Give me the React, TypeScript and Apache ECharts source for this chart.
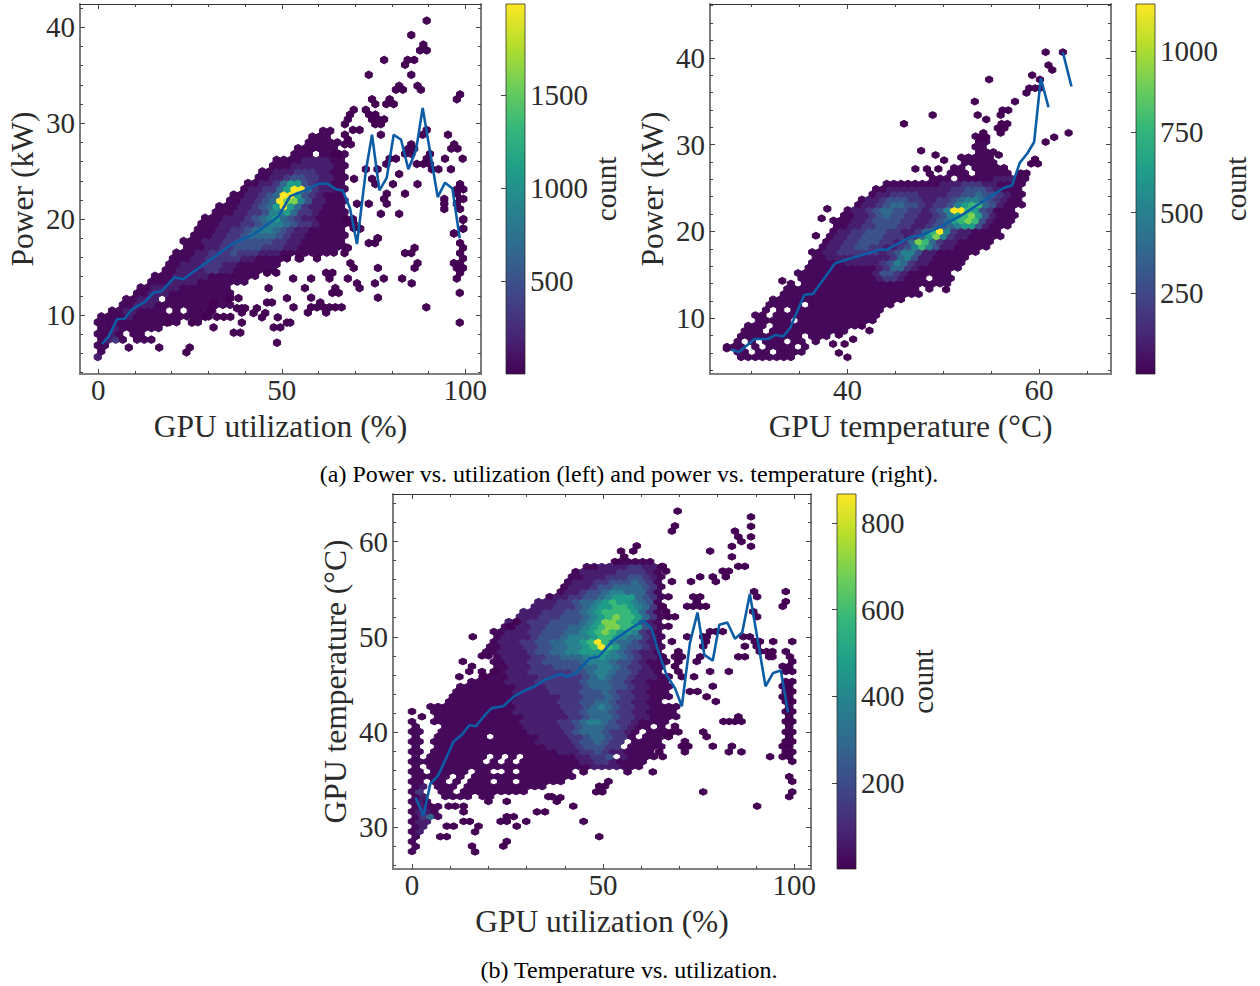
import React, { useEffect, useRef } from "react";
import * as echarts from "echarts";

const viridis = ["#440154","#482878","#3e4989","#31688e","#26828e","#1f9e89","#35b779","#6ece58","#b5de2b","#fde725"];
const levelFractions = [0.02,0.08,0.16,0.25,0.34,0.44,0.55,0.67,0.8,1];
const FONT = "Liberation Serif";
const INK = "#2b2b2b";

// [half-row, first column, count level per column (blank = empty bin)]
const powerUtilRows: [number,number,string][] = [
[0,0,"1"],[1,0,"0"],[2,0,"00"],[3,0,"0120"],[3,5,"00"],[3,7,"0"],[4,0,"0010"],[4,5,"00"],[5,0,"00100"],[5,5,"0000"],
[6,0,"000000000000  0"],[7,0,"0000100000000000"],[8,2,"00110000 0 0000"],[9,3,"0011100000000000"],[10,4,"00111 000000000"],
[11,5,"00111000000000"],[12,6,"0011110000000"],[13,7,"00011110000000"],[14,8,"000111110000000"],[15,9,"0011112211000000"],
[16,10,"0011122211000000"],[17,10,"0001122222110000"],[18,11,"00011222322211100000000"],[19,12,"00011223333222110000000"],
[20,12,"00011122333332211000000"],[21,13,"0001122344443211000000"],[22,14,"000112234554321100000"],[23,14,"000111223455432210000"],
[24,15,"00011123456432110000"],[25,16,"0001122355642210000"],[26,17,"000112346964211000"],[27,18,"00112349885311000"],
[28,19,"0011234996321000"],[29,20,"011224699421100"],[30,21,"00112466321100"],[31,22,"0011233221100"],[32,23,"001112221100"],
[33,24,"00011111100"],[34,25,"0000111100"],[35,27,"000 0000"],[36,28,"000000"],[37,29,"00000"],[38,30,"000"],[39,31,"00"],
];
const powerUtilOutliers: [number,number][] = [
[89.5,40.7],[85.3,39.2],[88.6,38.2],[87.7,37.6],[89.5,37.6],[77.9,36.6],[86.1,36.6],[84.3,36.6],[83.6,36.1],[73.7,35.05],[85.3,35.05],[82,33.9],[87,33.9],[81.1,33.5],[83,33.5],[87.9,33.5],[98.6,33],[97.7,32.5],[74.6,32.5],[79.4,32.5],[78.5,32],[80.5,32],[75.5,32],[69.6,31.4],[72.9,31.4],[68.6,30.9],[73.8,30.9],[75.5,30.9],[68,30.4],[74.6,30.4],[76.3,30.4],[77.9,30.4],[67.2,29.9],[75.5,29.9],[77,29.9],[69.4,29.3],[71.2,29.3],[89.5,29.3],[88.4,28.8],[95.3,28.8],[77,28.8],[67.2,28.8],[68,28.3],[67.2,27.8],[68.8,27.8],[97,27.8],[96.2,27.35],[97.9,27.35],[85.3,27.8],[84.5,27.35],[86.1,27.35],[83.6,26.8],[85.3,26.8],[90.4,26.8],[65.5,26.8],[64.6,26.8],[79.4,26.3],[81.1,26.3],[94.5,26.3],[89.5,26.3],[99.3,26.3],[78.5,25.75],[86.8,25.75],[88.6,25.75],[90.4,25.75],[72.9,25.2],[76.1,25.2],[90.9,25.2],[92.7,25.2],[96.1,25.2],[82,24.7],[69.7,24.2],[74.6,24.2],[75.5,23.65],[80.3,23.65],[87,23.65],[98.6,23.65],[97.7,23.1],[99.5,23.1],[78.6,22.65],[83.6,22.65],[97.7,22.65],[77.9,22.1],[94.3,22.1],[98.6,22.1],[99.5,22.1],[70.5,21.6],[73.7,21.6],[78.6,21.6],[94.3,21.6],[97.7,21.6],[94.3,21.05],[98.6,21.05],[77,20.55],[82,20.55],[99.5,20],[67.7,20],[69.4,20],[69.6,19.5],[71.4,19],[97,18.5],[99.5,19],[76.1,18],
[68,17],[67.1,16.45],[55,15.9],[59.6,15.9],[68.7,15.4],[69.6,14.9],[76.2,18],[75.4,17.5],[73.7,17.5],[76.2,14.9],[62.1,14.4],[63.8,14.4],[63,13.8],[58,13.8],[68,13.8],[77.8,13.8],[82.8,13.8],[70.5,13.3],[75.4,13.3],[85.4,13.3],[56.3,12.8],[71.2,12.8],[64.6,12.8],[63.8,12.3],[65.5,12.3],[58,11.8],[76.2,11.8],[60.5,11.3],[58,10.8],[59.6,10.8],[61.4,10.8],[63,10.8],[64.6,10.8],[66.3,10.8],[57.1,10.25],[62.1,10.25],[89.4,10.8],[98.5,9.2],[98.5,12.3],[97.7,13.8],[86.2,17],[85.3,16.45],[83.6,16.45],[87,15.4],[86.2,14.9],[96.9,18.5],[99.4,19],[99.4,19.9],[98.6,17.5],[99.4,17],[98.6,16.45],[99.4,15.9],[96.9,15.4],[98.6,15.4],[97.7,14.9],[99.4,14.9],[98.6,14.4],[69.6,19.06],[68.7,19.6],
[8.3,6.6],[16.6,6.6],[24.9,6.6],[24,6.1],[48.7,7.1],[31.4,8.7],[36.9,8.15],[38.7,8.15],[39.1,9.2],[47.8,8.7],[49.6,8.7],[51.4,9.2],[52.3,9.2],[48.9,9.75],[53.2,10.8],[51.4,11.75],[46,11.3],[47.3,11.3],[46.4,12.8],[53.1,13.8],[45.5,10.2],[44.6,9.75],[43.2,10.7],[42.3,10.2],[39.1,10.7],[37.8,10.7],[40,10.7],[39.1,10.25],[51.4,15.9],[54.6,15.9],[46,14.4],[48.5,14.4],[31.4,11.2],[36,11.75],[38.2,11.75],[36,9.8],[34.2,9.8],[32.3,9.8],[30.5,10.35],[29.2,9.8],[25.5,9.2],[18.7,9.2],
];
const powerUtilLine: [number,number][] = [
[1,6.97],[2.8,7.74],[5.1,9.55],[7.1,9.6],[9.2,10.6],[12.8,11.4],[15.1,12.34],[17.1,12.44],[20.8,13.94],[23.1,13.73],[29.6,15.5],[36.9,17.5],[42.3,18.4],[47.8,19.9],[49.1,20.3],[52.3,22.4],[56.4,23],[60,23.7],[62.5,23.7],[64.8,23.1],[66.6,23],[68.6,21.1],[70.5,17.4],[72.9,25],[74.6,28.8],[76.6,23],[78.6,24.3],[80.5,28.8],[82.5,28.3],[84.5,25.2],[86.6,27.2],[88.4,31.6],[92.5,22.3],[94.5,23.8],[96.5,23.2],[98.5,18],
];

const powerTempRows: [number,number,string][] = [
[0,2,"00000000"],[1,1,"00 00 0000"],[2,0,"000 0 0000 0"],[3,1,"0 0 000 00 0"],[4,2,"000000000 000"],[5,2,"000 00000000000"],
[6,3,"000 000000000000"],[7,4,"00000 00000000000"],[8,4,"00 000000000000000"],[9,5,"0 0 0000000000000"],[10,6,"00000 000000000000"],
[11,6,"0000000000000000000"],[12,8,"00000000000000000000"],[13,8,"0000000000000000000 0"],[14,9,"0 000000000000000000000"],
[15,10,"00000000000"+"1221"+"000"+" "+"000"],[16,10,"00000000000"+"13321"+"000000"],[17,11,"0000000000"+"124421"+"000000"],
[18,12,"000001111"+"12354211"+"00000"],[19,12,"0011"+"11111"+"11245311"+"00000"],[20,12,"0011"+"22222"+"212355311"+"000000"],
[21,13,"01"+"1223322"+"1123575311"+"00000"],[22,14,"01"+"1223332"+"2124874211"+"00000"],[23,14,"01"+"1223332"+"22"+"124685211"+"00000"],
[24,15,"01"+"12233322"+"1124795211"+"0000"],[25,15,"00"+"112233322"+"11233456631"+"000"],[26,15,"000"+"112333322"+"11234678731"+"000"],
[27,16,"00"+"112343322"+"11235678631"+"000"],[28,17,"01"+"123443322"+"1235997632"+"000"],[29,18,"01"+"12344332"+"12235677431"+"000"],
[30,19,"01"+"1233322"+"11223455432"+"100"],[31,20,"01"+"122221"+"11122334332"+"100"],[32,21,"00"+"11111"+"11112233321"+"000"],
[33,22,"00000"+"000111222110"+"000"],[34,29,"000 0000011100"],[35,31,"000 00000"],[36,32,"00 00000"],[37,33,"00000"],[38,33,"00000"],[39,35,"000"],[40,35,"00"],[41,35,"00"],[42,35,"0"],
];
const powerTempOutliers: [number,number][] = [
[60.7,40.65],[62.5,40.65],[61,39.15],[61.4,38.6],[59.3,38],[60.1,37.5],[54.8,37.5],[59,36.5],[59.6,36.5],[60.1,36.5],[58.7,35.96],[53.3,34.96],[57.5,34.96],[56.2,33.96],[56.8,33.96],[56,33.4],[48.9,33.4],[53.6,33.4],[54.5,32.9],[45.9,32.4],[56.7,32.4],[56.1,32.4],[55.7,31.9],[56.4,31.9],[56,31.35],[63.1,31.35],[61.6,30.85],[60.7,30.3],[54.2,31.35],[53.8,30.85],[54.5,30.85],[47.7,29.3],[49.2,28.8],[50.1,28.2],[47.1,27.2],[48.3,27.2],[48.6,26.65],[49.5,27.2],[59.6,28.3],[59.2,27.8],[59.9,27.8],[58.1,26.7],[58.7,26.7],[55.8,28.8],
[37.9,22.6],[37.3,21.5],[36.7,19.5],[27.4,6.5],[50.3,13.3],[33.2,14.3],[41.5,9.1],[42.3,8.57],[39.1,8.07],[40.6,7.57],[38.5,7.03],[39.7,7.03],[39.1,6],[40,5.5],
];
const powerTempLine: ([number,number]|[null,null])[] = [
[27.8,6.4],[28.67,6.1],[30.3,7.6],[31.7,7.6],[32.5,8.07],[33.3,7.9],[34,8.84],[35.5,12.7],[36.4,12.8],[38.7,16.34],[41.6,17.3],[43.4,17.9],[44.1,17.9],[46.5,19.3],[47.8,19.6],[49.65,20.5],[52.1,22],[54.2,23.5],[56.3,25],[57.2,25.3],[58,27.9],[58.8,29],[59.5,30.3],[60.2,37.65],[61,34.3],[null,null],[62.5,40.65],[63.4,36.7],
];

const tempUtilRows: [number,number,string][] = [
[0,0,"0"],[1,0,"0"],[2,0,"0"],[3,0,"0"],[4,0,"01"],[5,0,"01"],[6,0,"011"],[7,0,"0240"],[8,0,"0110"],[9,0,"0100"],[10,0,"010"],
[11,0,"01"],[12,0,"02"],[13,0,"01"],[14,0,"00"],[15,0,"00"],[16,0,"00"],[17,0,"0"],[18,0,"00"],[19,0,"0"],[20,0,"00"],[21,0,"0"],[22,0,"00"],[23,0,"0"],[24,0,"00"],[25,0,"0"],[26,0,"0"],
[11,4,"0000"],[11,9,"00"],[12,4,"00 000"],[12,9,"0000000"],[13,3,"000 00"],[13,9,"000000000"],[14,3,"00 0"],[14,8,"000 00 000000"],[15,2,"000"],[15,6,"0"],[15,8,"00000000000000"],
[16,3,"000"],[16,6,"00"],[16,9,"00  0 0000000"],[17,2,"000"],[17,5,"0000"],[17,9,"0000000000000"+"001111000"],
[18,2,"00000000"+" 0 "+"0"+" "+"00000000"+"11221"+"0000"],[19,2,"00000000"+" 0 0"+" "+"00000001"+"1223"+" "+"10000"],
[20,3,"000000000000"+"0000011"+"122321"+"10000"],[21,3,"000000000000"+"0001111"+"233322"+" 00000"],[22,3,"000000000000"+"0011111"+"233432"+"2 0000"],
[23,3,"0000000 0000"+"0011112"+"234432"+"20 0000"],[24,4,"00000000000"+"0111112"+"344432"+"210 000"],[25,4,"00000000000"+"1111122"+"344433"+"2100 0"],
[26,3,"000000000000"+"1111122"+"345543"+"2210000"],[27,3,"000000000000"+"1111112"+"234443"+"22110000"],[28,3,"0000000000"+"011111112"+"234443"+"22110000"],
[29,2,"00000000000"+"011111122"+"234543"+"22110000"],[30,5,"00000000"+"011111122"+"233443"+"221100"],[31,5,"00000000"+"011111122"+"233343"+"2211000"],
[32,6,"0000000"+"011111222"+"233343"+"2211000"],[33,6,"0000000"+"011112222"+"234443"+"3211000"],[34,8,"00000"+"111122222"+"234443"+"3211000"],
[35,9,"0000"+"111122222"+"234543"+"3211100"],[36,11,"00"+"111222222"+"334554"+"332110"],[37,11,"00"+"111222333"+"344554"+"322100"],
[38,11,"00"+"111223333"+"345554"+"332100"],[39,11,"01"+"111223344"+"455655"+"432110"],[40,10,"001"+"111233445"+"566665"+"432110"],
[41,10,"001"+"112233445"+"567976"+"433210"],[42,11,"01"+"112233445"+"567975"+"443210"],[43,11,"01"+"111233345"+"556776"+"544210"],
[44,11,"00"+"111223334"+"456787"+"665210"],[45,12,"0"+"011223334"+"456788"+"776310"],[46,13,"111222333"+"345688"+"776310"],
[47,14,"11122233"+"345678"+"776420"],[48,15,"1112223"+"345677"+"776420"],[49,16,"111222"+"345667"+"765420"],[50,17,"11122"+"344567"+"665430"],
[51,18,"0112"+"233456"+"664320"],[52,20,"01"+"123345"+"544420"],[53,20,"01"+"112334"+"444320"],[54,21,"0"+"111223"+"334320"],[55,21,"0"+"011122"+"233210"],
[56,22,"011111"+"222210"],[57,23,"00111"+"122110"],[58,28,"00000"],
];
const tempUtilOutliers: [number,number][] = [
[69.5,63.2],[68.8,61.65],[68,61.1],[54.7,59],[55.5,58.4],[58.8,59.55],[57.9,59],[53.1,57.9],[78,59],[88.7,62.6],[88.7,61.6],[88.7,60.5],[88.7,59.5],[84.5,61.1],[85.4,60.5],[86.2,60],[83.7,59.5],[83.7,58.4],[85.4,57.4],[87.1,57.4],[81.3,56.9],[82.9,56.9],[82.1,56.3],[78.7,56.3],[79.5,55.8],[75.4,56.3],[73,55.8],[68,55.8],[65.6,57.4],[66.5,56.9],[67.1,54.2],[73.6,54.2],[75.4,54.2],[74.5,53.7],[72,53.2],[73.6,53.2],[75.4,53.2],[76.9,53.2],[89.5,54.75],[90.3,54.2],[97.8,54.75],[97.8,53.7],[97,53.2],[89.3,52.65],[90.3,52.1],[68.8,52.1],[67.1,52.1],[65.6,53.2],[66.5,52.65],[67.1,51.1],[81.3,50.55],[79.5,50.55],[78,50.55],[77.1,50],[72,50],[76.2,50],[76.9,49.5],[68,49.5],[76.2,49],[86.7,50],[88.4,50],[89.7,49.5],[87.1,49],[94.5,49.5],[99.5,49.5],[85.4,47.9],[87.1,47.9],[91,49.5],[90.2,49],[91,48.45],[92.8,48.45],[94.3,48.45],[93.5,47.9],[94.3,47.9],[97.8,48.45],[98.9,47.9],[99.5,47.4],[69.7,48.45],[68.8,47.9],[70.6,47.9],[69.7,47.4],[68.8,46.9],[75.4,47.9],[74.5,47.4],[78,46.35],[82.9,46.35],[69.7,46.35],[70.6,45.8],[73.8,45.8],[66.5,47.4],[65.6,47.9],[78.7,44.8],[72.7,44.25],[74.7,44.25],[77.1,43.7],[79.5,43.2],[81.5,41.1],[83,41.1],[84.5,41.1],[85.4,41.6],[86.2,41.1],
[97,46.9],[98.7,46.9],[99.5,46.35],[97.8,46.35],[99.5,45.3],[97.8,45.3],[97,44.8],[98.7,44.8],[99.5,44.25],[97.8,44.25],[98.7,43.7],[97,43.7],[99.5,43.2],[97.8,43.2],[98.7,42.7],[97.8,42.15],[99.5,42.15],[98.7,41.6],[97.8,41.1],[99.5,41.1],[98.7,40.6],[97.8,40],[99.5,40],[98.7,39.5],[99.5,39],[97.8,39],[97,38.5],[98.7,38.5],[97.8,37.9],[99.5,37.9],[93.7,37.4],[97,37.4],[98.7,37.4],[99.5,36.9],[98.7,35.3],[99.5,34.8],[99.5,33.7],[98.7,33.2],[90.3,32.2],[76.2,33.7],[48.2,33.7],[49.8,33.7],[49,34.3],[50.5,34.3],[51.4,34.8],[44.9,35.8],[56.4,35.8],[63,35.8],[44.9,30.6],[49,29],[76.2,40],[77.1,39.5],[78.7,38.5],[83.7,38.5],[82.9,37.9],[86.2,37.9],[71.4,39],[70.6,38.5],[72.3,38.5],[71.4,37.9],[68.8,40.6],[69.7,40],[68,40],[67.1,39.5],[64.7,37.9],[65.6,37.4],
[36.6,33.2],[35.7,33.2],[38.8,33.1],[37.9,32.7],[42.2,32.2],[29.9,30.6],[27.4,30.1],[24.8,31.1],[26.6,31.1],[23.2,30.6],[24.8,30.6],[32.7,31.6],[34.8,31.6],[20,32.7],[24.8,32.7],[17.4,30.1],[16.5,29.5],[13.5,30.6],[15.1,30.6],[9.1,30.1],[10.9,30.1],[7.4,29],[9.1,29],[15.7,28],[16.5,27.4],[24.8,28.5],[23.9,28],[9.6,32.2],[11.3,32.2],[13.5,31.6],[13.5,32.2],
[15.9,50],[13.3,47.4],[15.7,46.9],[15,46.35],[18.3,48],[20,48],[12.4,45.8],[19.2,45.8],[18.3,46.35],[21.5,46.35],[0,42.15],[2.6,41.6],[25.7,51.1],[27.4,51.6],
];
const tempUtilLine: [number,number][] = [
[0.95,33.1],[3,31.2],[4.8,34.55],[6.95,35.5],[10.9,39],[13.05,39.7],[15,40.7],[16.7,40.6],[19.6,42],[20.9,42.5],[23.9,42.7],[26.6,43.7],[29.2,44.3],[32.2,44.8],[34.4,45.4],[38.8,46.1],[40.5,45.8],[42.7,46.1],[46.6,47.75],[48.8,47.9],[52.3,49.5],[56.6,50.7],[60.6,51.7],[62.6,50.9],[64.5,48.45],[66.6,46],[68.8,44.6],[70.6,42.7],[72.7,49.3],[74.7,52.55],[76.5,48.1],[78.7,47.5],[80.4,51.25],[82.5,51.5],[84.5,49.8],[86.4,50.45],[88.4,54.5],[92.5,44.8],[94.5,46.2],[96.5,46.45],[98.4,42.05],
];

const utilMajor = [0,50,100];
const utilMinor = [0,10,20,30,40,60,70,80,90,100];
const powerMajor = [10,20,30,40];
const powerMinor1 = [4,6,8,12,14,16,18,22,24,26,28,32,34,36,38,42];
const powerMinor2 = [4,6,8,12,14,16,18,22,24,26,28,32,34,36,38,42,44,46];
const tempXMajor = [40,60];
const tempXMinor = [30,35,45,50,55,65];
const tempYMajor = [30,40,50,60];
const tempYMinor = [26,28,32,34,36,38,42,44,46,48,52,54,56,58,62,64];
const cb1Major = [500,1000,1500];
const cb1Minor = [100,200,300,400,600,700,800,900,1100,1200,1300,1400,1600,1700,1800,1900];
const cb2Major = [250,500,750,1000];
const cb2Minor = [50,100,150,200,300,350,400,450,550,600,650,700,800,850,900,950,1050,1100];
const cb3Major = [200,400,600,800];
const cb3Minor = [50,100,150,250,300,350,450,500,550,650,700,750,850];

function hexData(rows:[number,number,string][],outliers:[number,number][],x0:number,dx:number,y0:number,dy:number,max:number){
  const out:number[][]=[];
  rows.forEach(([r,c,s])=>{
    for(let i=0;i<s.length;i++){
      if(s[i]===" ")continue;
      const col=c+i+(r%2?0.5:0);
      out.push([x0+col*dx,y0+r*dy,levelFractions[+s[i]]*max]);
    }
  });
  outliers.forEach(([x,y])=>out.push([x,y,1]));
  return out;
}

function hexRender(dx:number,dy:number){
  return (_:any,api:any)=>{
    const p=api.coord([api.value(0),api.value(1)]);
    const s=api.size([dx,dy]);
    const w=s[0]/2,h=s[1];
    const color=api.visual("color");
    return {type:"polygon",shape:{points:[[p[0],p[1]-h*2/3],[p[0]+w,p[1]-h/3],[p[0]+w,p[1]+h/3],[p[0],p[1]+h*2/3],[p[0]-w,p[1]+h/3],[p[0]-w,p[1]-h/3]]},
      style:{fill:color,stroke:color,lineWidth:1}};
  };
}

function App(){
  const ref=useRef<HTMLDivElement>(null);
  useEffect(()=>{
    const chart=echarts.init(ref.current!,undefined,{renderer:"svg"});
    const grid:any[]=[],xAxis:any[]=[],yAxis:any[]=[],series:any[]=[],visualMap:any[]=[];
    const plain=(v:number)=>String(v);
    const label={fontFamily:FONT,fontSize:29,color:INK,formatter:plain};
    const nameStyle={fontFamily:FONT,fontSize:31.5,color:INK};
    const hline={show:true,onZero:false,lineStyle:{color:"#777",width:1.6}};
    const dark={show:true,onZero:false,lineStyle:{color:"#333",width:1}};
    const tick=(vals:number[],len:number)=>({show:true,inside:true,length:len,customValues:vals,lineStyle:{color:"#444",width:1}});
    const panel=(o:any)=>{
      const g=grid.length;
      grid.push({left:o.box[0],top:o.box[1],width:o.box[2],height:o.box[3],containLabel:false,outerBoundsMode:"none"});
      const xi=xAxis.length,yi=yAxis.length;
      const xBase={type:"value",gridIndex:g,min:o.xr[0],max:o.xr[1],splitLine:{show:false}};
      const yBase={type:"value",gridIndex:g,min:o.yr[0],max:o.yr[1],splitLine:{show:false}};
      xAxis.push({...xBase,position:"bottom",axisLine:hline,axisTick:tick(o.xMajor,5),axisLabel:{...label,margin:1,customValues:o.xMajor},name:o.xName,nameLocation:"middle",nameGap:o.xGap,nameTextStyle:nameStyle});
      xAxis.push({...xBase,position:"bottom",axisLine:hline,axisTick:tick(o.xMinor,3),axisLabel:{show:false}});
      xAxis.push({...xBase,position:"top",axisLine:dark,axisTick:tick(o.xMajor,5),axisLabel:{show:false}});
      xAxis.push({...xBase,position:"top",axisLine:dark,axisTick:tick(o.xMinor,3),axisLabel:{show:false}});
      yAxis.push({...yBase,position:"left",axisLine:hline,axisTick:tick(o.yMajor,5),axisLabel:{...label,margin:5,customValues:o.yMajor},name:o.yName,nameLocation:"middle",nameGap:o.yGap,nameRotate:90,nameTextStyle:nameStyle});
      yAxis.push({...yBase,position:"left",axisLine:hline,axisTick:tick(o.yMinor,3),axisLabel:{show:false}});
      yAxis.push({...yBase,position:"right",axisLine:hline,axisTick:tick(o.yMajor,5),axisLabel:{show:false}});
      yAxis.push({...yBase,position:"right",axisLine:hline,axisTick:tick(o.yMinor,3),axisLabel:{show:false}});
      visualMap.push({show:false,seriesIndex:series.length,dimension:2,min:o.cb[0],max:o.cb[1],inRange:{color:viridis}});
      series.push({type:"custom",xAxisIndex:xi,yAxisIndex:yi,coordinateSystem:"cartesian2d",renderItem:hexRender(o.dx,o.dy),encode:{x:0,y:1},data:o.hex,progressive:0,silent:true,clip:false});
      series.push({type:"line",xAxisIndex:xi,yAxisIndex:yi,data:o.line,showSymbol:false,connectNulls:false,lineStyle:{color:"#0C5DA5",width:2.6},silent:true,z:5});
      // colour bar
      const cg=grid.length;
      grid.push({left:o.cbBox[0],top:o.box[1],width:o.cbBox[1],height:o.box[3],outerBoundsMode:"none"});
      const cx=xAxis.length,cy=yAxis.length;
      xAxis.push({type:"value",gridIndex:cg,min:0,max:1,show:false});
      const cBase={type:"value",gridIndex:cg,position:"right",min:o.cb[0],max:o.cb[1],splitLine:{show:false},axisLine:{show:false}};
      yAxis.push({...cBase,axisTick:tick(o.cbMajor,5),axisLabel:{...label,margin:5,customValues:o.cbMajor},name:"count",nameLocation:"middle",nameGap:o.cbGap,nameRotate:90,nameTextStyle:{...nameStyle,fontSize:29}});
      yAxis.push({...cBase,axisTick:tick(o.cbMinor,3),axisLabel:{show:false}});
      series.push({type:"custom",xAxisIndex:cx,yAxisIndex:cy,coordinateSystem:"cartesian2d",encode:{x:0,y:1},data:[[0,o.cb[1]]],silent:true,z:1,
        renderItem:(_:any,api:any)=>{
          const a=api.coord([0,o.cb[1]]),b=api.coord([1,o.cb[0]]);
          return {type:"rect",shape:{x:a[0],y:a[1],width:b[0]-a[0],height:b[1]-a[1]},
            style:{fill:new echarts.graphic.LinearGradient(0,1,0,0,viridis.map((c,i)=>({offset:i/(viridis.length-1),color:c}))),stroke:"rgba(40,40,40,0.75)",lineWidth:1}};
        }});
    };
    panel({box:[80,4,401,370],xr:[-5,104.3],yr:[3.84,42.44],xMajor:utilMajor,xMinor:utilMinor,yMajor:powerMajor,yMinor:powerMinor1,
      xName:"GPU utilization (%)",xGap:36,yName:"Power (kW)",yGap:42,dx:1.95,dy:0.605,
      hex:hexData(powerUtilRows,powerUtilOutliers,-0.16,1.95,5.61,0.605,1992),line:powerUtilLine,
      cb:[1,1992],cbBox:[506,19],cbMajor:cb1Major,cbMinor:cb1Minor,cbGap:64});
    panel({box:[710,4,401,370],xr:[25.64,67.53],yr:[3.57,46.2],xMajor:tempXMajor,xMinor:tempXMinor,yMajor:powerMajor,yMinor:powerMinor2,
      xName:"GPU temperature (°C)",xGap:36,yName:"Power (kW)",yGap:42,dx:0.742,dy:0.606,
      hex:hexData(powerTempRows,powerTempOutliers,27.41,0.742,5.5,0.606,1145),line:powerTempLine,
      cb:[1,1145],cbBox:[1136,19],cbMajor:cb2Major,cbMinor:cb2Minor,cbGap:65});
    panel({box:[393,494,418,375],xr:[-4.97,104.4],yr:[25.6,65],xMajor:utilMajor,xMinor:utilMinor,yMajor:tempYMajor,yMinor:tempYMinor,
      xName:"GPU utilization (%)",xGap:36,yName:"GPU temperature (°C)",yGap:42,dx:1.947,dy:0.525,
      hex:hexData(tempUtilRows,tempUtilOutliers,0,1.947,27.44,0.525,867),line:tempUtilLine,
      cb:[1,867],cbBox:[837,19],cbMajor:cb3Major,cbMinor:cb3Minor,cbGap:50});
    const caption=(text:string,y:number)=>({type:"text",x:629,y,style:{text,fontFamily:FONT,fontSize:24,fill:"#000",textAlign:"center",textVerticalAlign:"middle"}});
    chart.setOption({animation:false,backgroundColor:"#fff",grid,xAxis,yAxis,series,visualMap,
      graphic:[caption("(a) Power vs. utilization (left) and power vs. temperature (right).",474),caption("(b) Temperature vs. utilization.",970)]});
    return ()=>chart.dispose();
  },[]);
  return <div ref={ref} style={{position:"absolute",left:0,top:0,width:1260,height:986}}/>;
}
export default App;
